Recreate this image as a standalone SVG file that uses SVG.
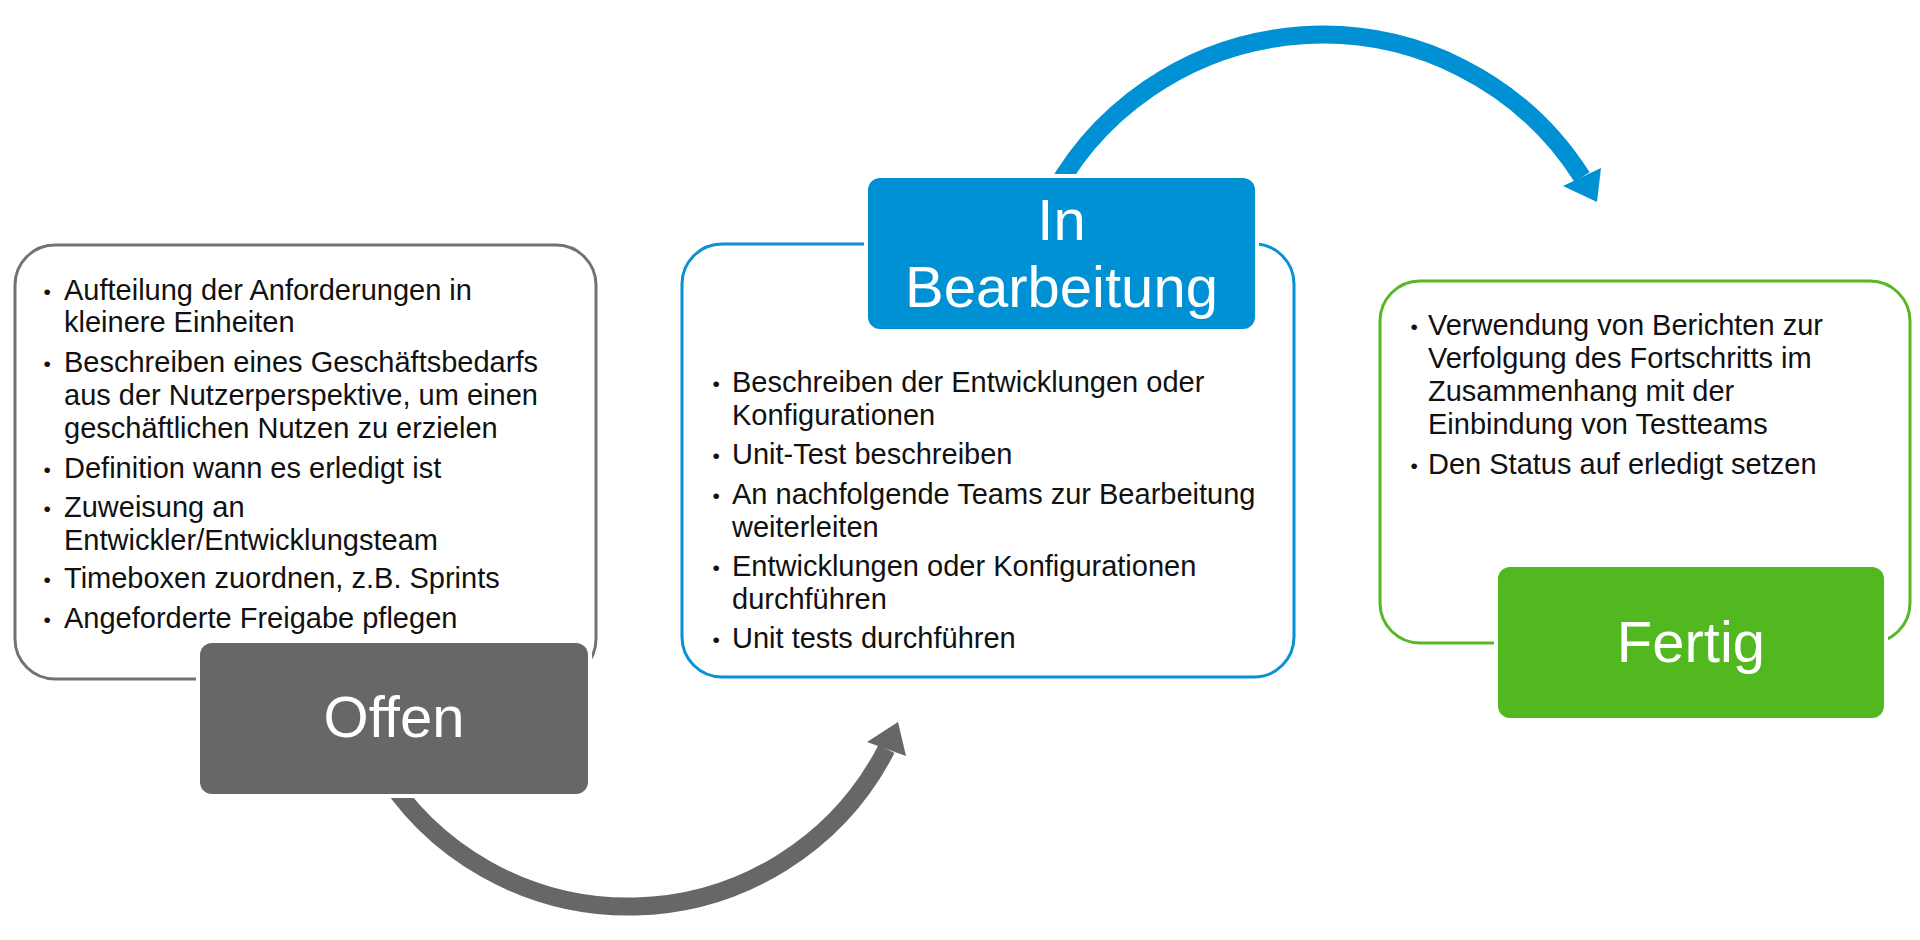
<svg xmlns="http://www.w3.org/2000/svg" width="1920" height="940" viewBox="0 0 1920 940">
  <style>
    .box { fill: #ffffff; stroke-width: 3; }
    .halo { fill: #ffffff; }
    .lbl { fill: #ffffff; font-family: "Liberation Sans", Arial, sans-serif; font-size: 58px; text-anchor: middle; }
    .txt { fill: #111111; font-family: "Liberation Sans", Arial, sans-serif; font-size: 29px; }
    .b { font-size: 21px; }
    .arc { fill: none; stroke-width: 18; stroke-linecap: butt; }
  </style>
  <rect x="0" y="0" width="1920" height="940" fill="#ffffff"/>

  <g id="connectors">
    <path class="arc" stroke="#676767" d="M 377 761 A 290 290 0 0 0 886.5 749"/>
    <polygon fill="#676767" points="898,722 867,742 906,756"/>
    <path class="arc" stroke="#0090d4" d="M 1044 212 A 307.5 307.5 0 0 1 1582 177"/>
    <polygon fill="#0090d4" points="1597,202 1601,168 1563,186"/>
  </g>

  <g id="node-offen">
    <rect class="box" x="15" y="245" width="581" height="434" rx="40" ry="40" stroke="#727272"/>
    <text class="txt"><tspan class="b" x="43.5" y="299">•</tspan><tspan x="64" y="300">Aufteilung der Anforderungen in</tspan><tspan x="64" y="332">kleinere Einheiten</tspan></text>
    <text class="txt"><tspan class="b" x="43.5" y="371">•</tspan><tspan x="64" y="372">Beschreiben eines Geschäftsbedarfs</tspan><tspan x="64" y="405">aus der Nutzerperspektive, um einen</tspan><tspan x="64" y="438">geschäftlichen Nutzen zu erzielen</tspan></text>
    <text class="txt"><tspan class="b" x="43.5" y="477">•</tspan><tspan x="64" y="478">Definition wann es erledigt ist</tspan></text>
    <text class="txt"><tspan class="b" x="43.5" y="516">•</tspan><tspan x="64" y="517">Zuweisung an</tspan><tspan x="64" y="550">Entwickler/Entwicklungsteam</tspan></text>
    <text class="txt"><tspan class="b" x="43.5" y="587">•</tspan><tspan x="64" y="588">Timeboxen zuordnen, z.B. Sprints</tspan></text>
    <text class="txt"><tspan class="b" x="43.5" y="627">•</tspan><tspan x="64" y="628">Angeforderte Freigabe pflegen</tspan></text>
    <rect class="halo" x="196" y="639" width="396" height="159" rx="16" ry="16"/>
    <rect x="200" y="643" width="388" height="151" rx="12" ry="12" fill="#676767"/>
    <text class="lbl" x="394" y="737">Offen</text>
  </g>

  <g id="node-inbearbeitung">
    <rect class="box" x="682" y="244" width="612" height="433" rx="40" ry="40" stroke="#0a90d4"/>
    <text class="txt"><tspan class="b" x="712.5" y="391">•</tspan><tspan x="732" y="392">Beschreiben der Entwicklungen oder</tspan><tspan x="732" y="425">Konfigurationen</tspan></text>
    <text class="txt"><tspan class="b" x="712.5" y="463">•</tspan><tspan x="732" y="464">Unit-Test beschreiben</tspan></text>
    <text class="txt"><tspan class="b" x="712.5" y="503">•</tspan><tspan x="732" y="504">An nachfolgende Teams zur Bearbeitung</tspan><tspan x="732" y="537">weiterleiten</tspan></text>
    <text class="txt"><tspan class="b" x="712.5" y="575">•</tspan><tspan x="732" y="576">Entwicklungen oder Konfigurationen</tspan><tspan x="732" y="609">durchführen</tspan></text>
    <text class="txt"><tspan class="b" x="712.5" y="647">•</tspan><tspan x="732" y="648">Unit tests durchführen</tspan></text>
    <rect class="halo" x="864" y="174" width="395" height="159" rx="16" ry="16"/>
    <rect x="868" y="178" width="387" height="151" rx="12" ry="12" fill="#0090d4"/>
    <text class="lbl"><tspan x="1061.5" y="240">In</tspan><tspan x="1061.5" y="307">Bearbeitung</tspan></text>
  </g>

  <g id="node-fertig">
    <rect class="box" x="1380" y="281" width="530" height="362" rx="40" ry="40" stroke="#57b826"/>
    <text class="txt"><tspan class="b" x="1410.5" y="334">•</tspan><tspan x="1428" y="335">Verwendung von Berichten zur</tspan><tspan x="1428" y="368">Verfolgung des Fortschritts im</tspan><tspan x="1428" y="401">Zusammenhang mit der</tspan><tspan x="1428" y="434">Einbindung von Testteams</tspan></text>
    <text class="txt"><tspan class="b" x="1410.5" y="473">•</tspan><tspan x="1428" y="474">Den Status auf erledigt setzen</tspan></text>
    <rect class="halo" x="1494" y="563" width="394" height="159" rx="16" ry="16"/>
    <rect x="1498" y="567" width="386" height="151" rx="12" ry="12" fill="#52b81f"/>
    <text class="lbl" x="1691" y="662">Fertig</text>
  </g>
</svg>
